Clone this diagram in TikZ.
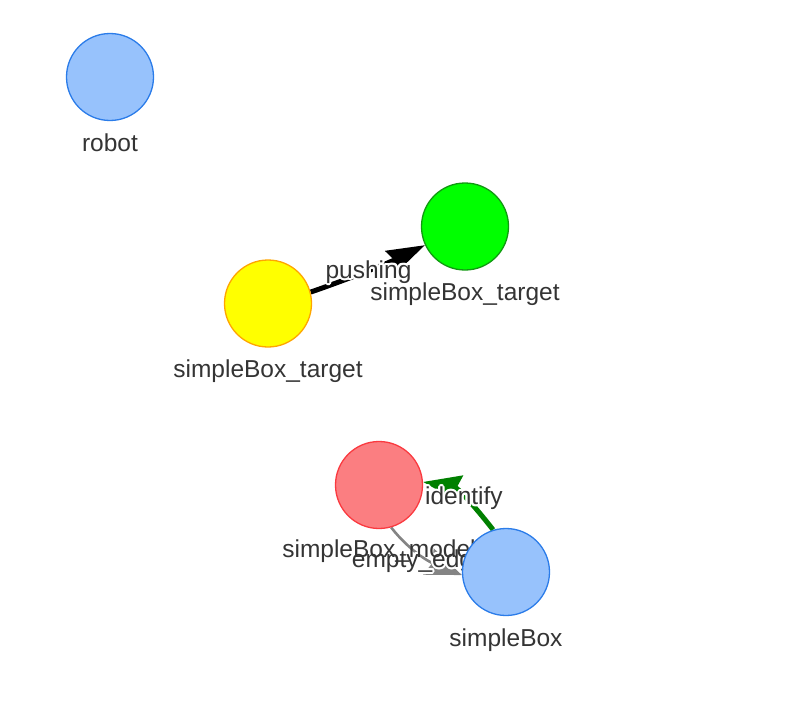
\documentclass[tikz,border=0pt]{standalone}
\usepackage{fontspec}
\setmainfont{Liberation Sans}
\usepackage{contour}
\contourlength{2pt}
\usetikzlibrary{arrows.meta, backgrounds}
\definecolor{vblue}{HTML}{97C2FC}
\definecolor{vblueline}{HTML}{2B7CE9}
\definecolor{vgreen}{HTML}{00FF00}
\definecolor{vgreenline}{HTML}{119911}
\definecolor{vyellow}{HTML}{FFFF00}
\definecolor{vyellowline}{HTML}{FFA500}
\definecolor{vred}{HTML}{FB7E81}
\definecolor{vredline}{HTML}{FA3A40}
\definecolor{labelgray}{HTML}{343434}
\definecolor{edgegray}{HTML}{848484}
\definecolor{edgegreen}{HTML}{008000}
\tikzstyle{vertex} = [circle, draw, line width=1.3pt, minimum size=87pt, inner sep=0pt]
\tikzstyle{vlabel} = [text=labelgray, font=\fontsize{24.5}{28}\selectfont, anchor=base, inner sep=0pt]
\tikzstyle{elabel} = [vlabel, pos=0.5]
\tikzstyle{pusharrow} = [draw, line width=5pt, -{Stealth[length=38pt, width=24pt, inset=4pt]}]
\tikzstyle{identarrow} = [draw, edgegreen, line width=5pt, -{Stealth[length=38pt, width=26pt, inset=4pt]}]
\tikzstyle{emptyarrow} = [draw, edgegray, line width=2.6pt, -{Stealth[length=36pt, width=28pt, inset=4pt]}]

\begin{document}
\begin{tikzpicture}[x=1pt, y=1pt]
\useasboundingbox (0, 0) rectangle (795, -701);

%% robot
\node[vertex, fill=vblue, draw=vblueline] at (110, -77) (robot) {};
\node[vlabel] at (110, -151) (robotlabel) {robot};

%% targets
\node[vertex, fill=vgreen, draw=vgreenline] at (465, -226.5) (greentarget) {};
\node[vlabel] at (465, -300) (greentargetlabel) {simpleBox\_target};

\node[vertex, fill=vyellow, draw=vyellowline] at (268, -303.5) (yellowtarget) {};
\node[vlabel] at (268, -377) (yellowtargetlabel) {simpleBox\_target};

%% model and box
\node[vertex, fill=vred, draw=vredline] at (379, -485) (model) {};
\node[vlabel] at (379, -557) (modellabel) {simpleBox\_model};

\node[vertex, fill=vblue, draw=vblueline] at (506, -572) (simplebox) {};
\node[vlabel] at (506, -646) (simpleboxlabel) {simpleBox};

%% edges
\begin{pgfonlayer}{background}
\path[pusharrow] (yellowtarget.15) .. controls +(19:40) and +(206:40) .. (greentarget.205)
  node[elabel, yshift=-8] (pushlabel) {\contour{white}{pushing}};
\path[identarrow] (simplebox.107) .. controls +(128:35) and +(-10:35) .. (model.4)
  node[elabel, xshift=1, yshift=-7] (identlabel) {\contour{white}{identify}};
\path[emptyarrow] (model.-74) .. controls +(-52:30) and +(158:35) .. (simplebox.184)
  node[elabel, xshift=-2, yshift=-12] (emptylabel) {\contour{white}{empty\_edge}};
\end{pgfonlayer}

\end{tikzpicture}
\end{document}
